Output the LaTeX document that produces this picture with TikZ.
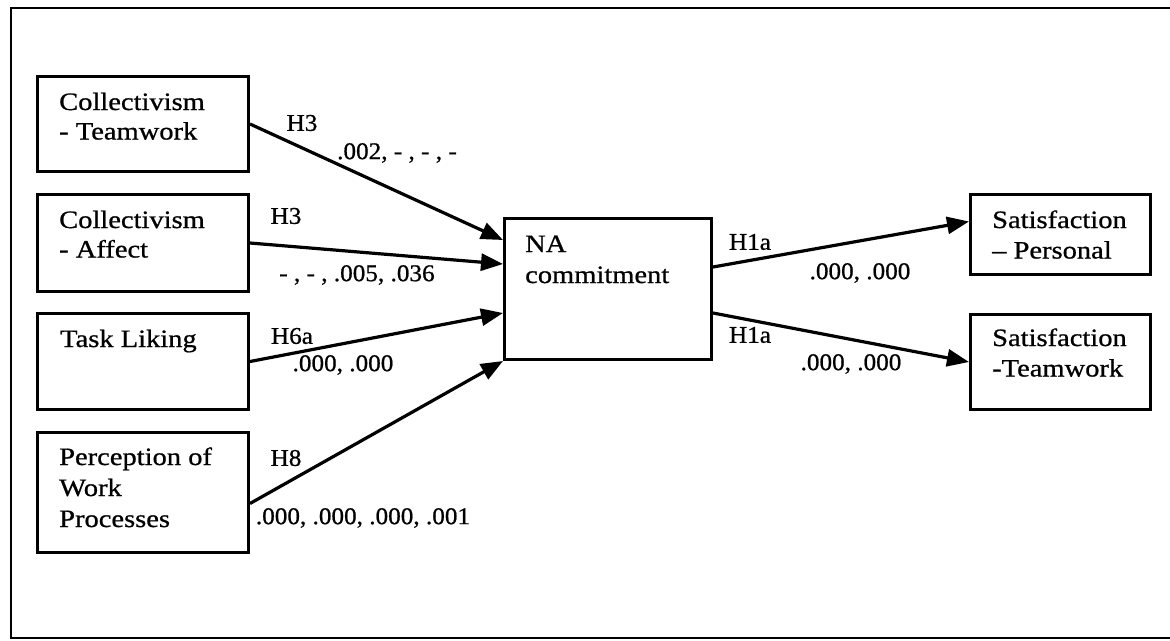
\documentclass[tikz,border=0pt]{standalone}
\usepackage{fontspec}
\setmainfont{Liberation Serif}
\newfontfamily\boxfont[FakeStretch=1.14,FakeBold=0.8]{Liberation Serif}
\newfontfamily\lblfont[FakeStretch=1.05,FakeBold=0.8]{Liberation Serif}
\usetikzlibrary{arrows.meta,calc}
\begin{document}
\begin{tikzpicture}[x=1pt,y=-1pt,
  boxnode/.style={draw,line width=3pt,inner sep=0pt,anchor=north west},
  boxtext/.style={anchor=base west,align=left,inner sep=0pt,font=\boxfont\fontsize{25}{29.5}\selectfont},
  lbl/.style={inner sep=0pt,font=\lblfont\fontsize{24}{28}\selectfont},
  conn/.style={line width=3.2pt,-{Triangle[length=22pt,width=17pt]}}]
\useasboundingbox (0,0) rectangle (1170,640);
\draw[line width=2.6pt] (1172,8) -- (11,8) -- (11,638) -- (1172,638);
% left boxes
\node[boxnode,minimum width=211pt,minimum height=95pt] (b1) at (36,75) {};
\node[boxnode,minimum width=211pt,minimum height=97pt] (b2) at (36,193) {};
\node[boxnode,minimum width=211pt,minimum height=96pt] (b3) at (36,312) {};
\node[boxnode,minimum width=211pt,minimum height=120pt] (b4) at (36,431) {};
\node[boxtext] (t1) at ($(b1.north west)+(23,64.5)$) {Collectivism\\- Teamwork};
\node[boxtext] (t2) at ($(b2.north west)+(23,64.5)$) {Collectivism\\- Affect};
\node[boxtext] (t3) at ($(b3.north west)+(24,35)$) {Task Liking};
\node[boxtext,font=\boxfont\fontsize{25}{31}\selectfont] (t4) at ($(b4.north west)+(23,96)$) {Perception of\\Work\\Processes};
% centre box
\node[boxnode,minimum width=207pt,minimum height=141pt] (na) at (503,217) {};
\node[boxtext,font=\boxfont\fontsize{25}{31}\selectfont] (tna) at ($(na.north west)+(22,66)$) {NA\\commitment};
% right boxes
\node[boxnode,minimum width=180pt,minimum height=80pt] (sp) at (969,193) {};
\node[boxnode,minimum width=180pt,minimum height=95pt] (st) at (969,313) {};
\node[boxtext,font=\boxfont\fontsize{25}{30.5}\selectfont] (tsp) at ($(sp.north west)+(23,65.5)$) {Satisfaction\\– Personal};
\node[boxtext,font=\boxfont\fontsize{25}{30.5}\selectfont] (tst) at ($(st.north west)+(23,63.5)$) {Satisfaction\\-Teamwork};
% connectors
\draw[conn] (b1.east) -- ($(na.north west)+(0,23)$);
\draw[conn] (b2.east) -- ($(na.north west)+(0,47)$);
\draw[conn] (b3.east) -- ($(na.north west)+(0,96)$);
\draw[conn] ($(b4.east)+(0,11)$) -- (na.south west);
\draw[conn] ($(na.east)+(0,-22)$) -- ($(sp.west)+(0,-13)$);
\draw[conn] ($(na.east)+(0,24)$) -- (st.west);
% labels
\node[lbl] (l1) at (302,123) {H3};
\node[lbl] (l2) at (397,153) {.002, - , - , -};
\node[lbl] (l3) at (286,216) {H3};
\node[lbl] (l4) at (357,275) {- , - , .005, .036};
\node[lbl] (l5) at (292,336) {H6a};
\node[lbl] (l6) at (343,365) {.000, .000};
\node[lbl] (l7) at (286,458) {H8};
\node[lbl] (l8) at (363,518) {.000, .000, .000, .001};
\node[lbl] (l9) at (750,242) {H1a};
\node[lbl] (l10) at (860,273) {.000, .000};
\node[lbl] (l11) at (750,335) {H1a};
\node[lbl] (l12) at (851,364) {.000, .000};
\end{tikzpicture}
\end{document}
